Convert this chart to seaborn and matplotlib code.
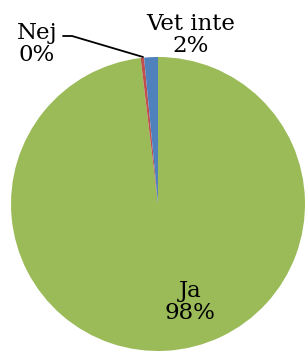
import numpy as np
import matplotlib
matplotlib.use('Agg')
from matplotlib import pyplot as plt
import seaborn as sns

## data (clockwise from 12 o'clock)
labels = ['Ja', 'Nej', 'Vet inte']
counts = [260, 1, 4]
pct_text = ['98%', '0%', '2%']
colors = ['#9BBB59', '#C0504D', '#4F81BD']

sns.set_theme(style='white')
plt.rcParams['font.family'] = ['DejaVu Serif', 'Liberation Serif']

W, H = 305, 352
fig = plt.figure(figsize=(W / 100, H / 100), dpi=100)
# pie centre ~ (158, 204) px, radius ~147 px
cx, cy, r = 158, 204, 147
ax = fig.add_axes([(cx - r) / W, (H - cy - r) / H, 2 * r / W, 2 * r / H])

ax.pie(counts, colors=colors, startangle=90, counterclock=False,
       wedgeprops=dict(linewidth=0))
ax.set_xlim(-1, 1)
ax.set_ylim(-1, 1)
ax.set_aspect('equal')
ax.axis('off')

def px(x, y):
    return ((x - cx) / r, (cy - y) / r)

txt = dict(ha='center', va='center', fontsize=16.5, color='black',
           linespacing=1.0, annotation_clip=False)
ax.annotate(f'{labels[0]}\n{pct_text[0]}', px(190, 302), **txt)
ax.annotate(f'{labels[1]}\n{pct_text[1]}', px(37, 44), **txt)
ax.annotate(f'{labels[2]}\n{pct_text[2]}', px(191, 35), **txt)

# leader line for Nej
lx, ly = zip(px(63, 36), px(72, 36), px(143, 57))
ax.plot(lx, ly, color='black', lw=1.3, clip_on=False)

fig.savefig('out.png', dpi=100)
